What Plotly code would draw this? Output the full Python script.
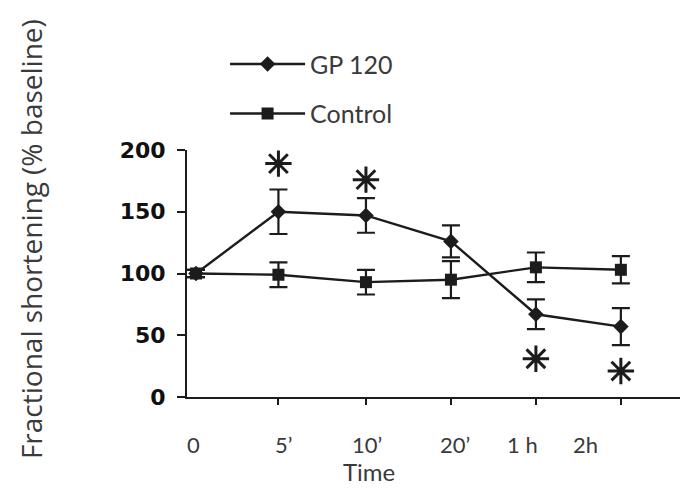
import plotly.graph_objects as go

# ---- data ----
time_labels = ["0", "5’", "10’", "20’", "1 h", "2h"]
x_pos = [0, 0.97, 2.0, 3.0, 4.0, 5.0]
gp120 = [100, 150, 147, 126, 67, 57]
gp120_err = [3, 18, 14, 13, 12, 15]
control = [100, 99, 93, 95, 105, 103]
control_err = [3, 10, 10, 15, 12, 11]
sig_x = [0.97, 2.0, 4.0, 5.0]
sig_y = [189, 176, 31, 21]

LINE = "#1c1c1c"
TXT = "#3a3a3a"
FONT = "Lato"

fig = go.Figure()
fig.add_trace(go.Scatter(
    x=x_pos, y=gp120, name="GP 120", mode="lines+markers",
    line=dict(color=LINE, width=2.4),
    marker=dict(symbol="diamond", size=12, color=LINE),
    error_y=dict(type="data", array=gp120_err, color=LINE, thickness=2.2, width=9),
    cliponaxis=False, legendgroup="a"))
fig.add_trace(go.Scatter(
    x=x_pos, y=control, name="Control", mode="lines+markers",
    line=dict(color=LINE, width=2.4),
    marker=dict(symbol="square", size=12, color=LINE),
    error_y=dict(type="data", array=control_err, color=LINE, thickness=2.2, width=9),
    cliponaxis=False, legendgroup="b"))
fig.add_trace(go.Scatter(
    x=sig_x, y=sig_y, mode="markers", showlegend=False,
    marker=dict(symbol="asterisk-open", size=22, color=LINE,
                line=dict(color=LINE, width=3)),
    cliponaxis=False, hoverinfo="skip"))

label_x = [-0.035, 1.03, 2.01, 3.05, 3.84, 4.58]
for lx, t in zip(label_x, time_labels):
    fig.add_annotation(x=lx, y=0, xref="x", yref="y", text=t, showarrow=False,
                       yshift=-47, font=dict(family=FONT, size=22, color=TXT))
fig.add_annotation(x=2.03, y=0, xref="x", yref="y", text="Time", showarrow=False,
                   yshift=-74, font=dict(family=FONT, size=24, color=TXT))
fig.add_annotation(text="Fractional shortening (% baseline)", textangle=-90,
                   xref="paper", yref="paper", x=-0.311, y=0.64,
                   xanchor="center", yanchor="middle",
                   showarrow=False, font=dict(family="Open Sans", size=28, color=TXT))

fig.update_xaxes(range=[-0.106, 5.79], showline=True, linecolor=LINE, linewidth=2,
                 tickvals=x_pos[1:], ticktext=[""] * 5, ticks="outside",
                 ticklen=6, tickwidth=2, tickcolor=LINE, showgrid=False, zeroline=False)
fig.update_yaxes(range=[0, 200], showline=True, linecolor=LINE, linewidth=2,
                 tickvals=[0, 50, 100, 150, 200], ticks="outside", ticklen=8,
                 tickwidth=2, tickcolor=LINE, showgrid=False, zeroline=False,
                 ticklabelstandoff=7,
                 tickfont=dict(family="DejaVu Sans", size=22, color="#111111", weight="bold"))

fig.update_layout(
    width=680, height=480,
    margin=dict(l=179, r=0, t=142, b=91),
    plot_bgcolor="white", paper_bgcolor="white",
    showlegend=True,
    legend=dict(x=0.076, y=1.44, xanchor="left", yanchor="top",
                font=dict(family=FONT, size=25, color=TXT),
                itemwidth=75, tracegroupgap=14, bgcolor="rgba(0,0,0,0)"),
)
fig.write_html("out.html")
